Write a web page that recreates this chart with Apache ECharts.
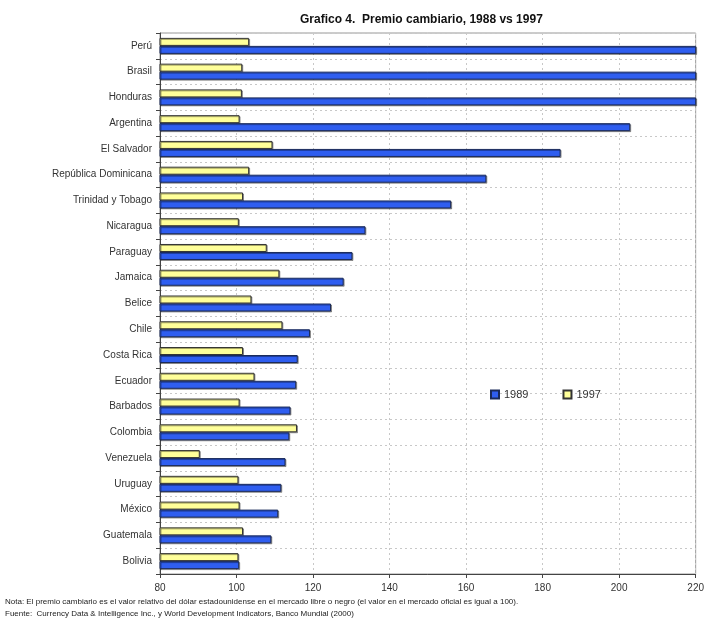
<!DOCTYPE html>
<html>
<head>
<meta charset="utf-8">
<script src="https://cdn.jsdelivr.net/npm/echarts@6/dist/echarts.min.js"></script>
<style>
  html, body { margin: 0; padding: 0; background: #fff; }
  #chart { width: 707px; height: 619px; }
</style>
</head>
<body>
<div id="chart"></div>
<script>
// Countries, top to bottom
const countries = [
  'Perú', 'Brasil', 'Honduras', 'Argentina', 'El Salvador', 'República Dominicana',
  'Trinidad y Tobago', 'Nicaragua', 'Paraguay', 'Jamaica', 'Belice', 'Chile',
  'Costa Rica', 'Ecuador', 'Barbados', 'Colombia', 'Venezuela', 'Uruguay',
  'México', 'Guatemala', 'Bolivia'
];
// Exchange premium (official market = 100); the first three run past the axis end
const premium1989 = [
  260, 250, 240, 202.9, 184.7, 165.3,
  156.1, 133.7, 130.3, 128.0, 124.7, 119.2,
  116.0, 115.6, 114.1, 113.8, 112.8, 111.7,
  110.9, 109.1, 100.7
];
const premium1997 = [
  103.3, 101.5, 101.4, 100.8, 109.4, 103.3,
  101.7, 100.6, 107.9, 111.2, 103.9, 112.0,
  101.7, 104.7, 100.8, 115.8, 90.4, 100.5,
  100.8, 101.7, 100.5
];
const xTicks = { min: 80, max: 220, interval: 20 };
const seriesNames = ['1989', '1997'];

const chart = echarts.init(document.getElementById('chart'), null, { renderer: 'canvas' });
const font = 'Liberation Sans, Arial, sans-serif';

const barShadow = {
  shadowColor: 'rgba(0,0,0,0.35)',
  shadowBlur: 0,
  shadowOffsetX: 1,
  shadowOffsetY: 1
};

chart.setOption({
  animation: false,
  backgroundColor: '#ffffff',
  textStyle: { fontFamily: font },
  title: {
    text: 'Grafico 4.  Premio cambiario, 1988 vs 1997',
    left: 295,
    top: 9,
    textStyle: { fontFamily: font, fontSize: 12, fontWeight: 'bold', color: '#111' }
  },
  legend: {
    data: seriesNames,
    left: 485,
    top: 384,
    icon: 'rect',
    itemWidth: 8,
    itemHeight: 8,
    itemGap: 34,
    textStyle: { fontFamily: font, fontSize: 11, color: '#333' }
  },
  grid: {
    left: 160, right: 7, top: 33, bottom: 45,
    show: true,
    borderColor: '#999',
    borderWidth: 1
  },
  xAxis: {
    type: 'value',
    min: xTicks.min,
    max: xTicks.max,
    interval: xTicks.interval,
    axisLine: { show: true, lineStyle: { color: '#444', width: 1 } },
    axisTick: { show: true, length: 4, lineStyle: { color: '#444' } },
    axisLabel: { fontFamily: font, fontSize: 10, color: '#333', margin: 9 },
    splitLine: { show: true, lineStyle: { color: '#c8c8c8', type: [2, 3] } }
  },
  yAxis: {
    type: 'category',
    data: countries,
    inverse: true,
    axisLine: { show: true, lineStyle: { color: '#444', width: 1 } },
    axisTick: { show: true, length: 4, lineStyle: { color: '#444' } },
    axisLabel: { fontFamily: font, fontSize: 10, color: '#333', margin: 8 },
    splitLine: { show: true, lineStyle: { color: '#c8c8c8', type: [2, 3] } }
  },
  series: [
    // 1997 is listed first so it sits above 1989 within each country band
    {
      name: '1997',
      type: 'bar',
      data: premium1997,
      barWidth: 8,
      barGap: '0%',
      clip: true,
      itemStyle: Object.assign({ color: '#ffff99', borderColor: '#333', borderWidth: 1 }, barShadow)
    },
    {
      name: '1989',
      type: 'bar',
      data: premium1989,
      barWidth: 8,
      barGap: '0%',
      clip: true,
      itemStyle: Object.assign({ color: '#2f5ef0', borderColor: '#1a2a5a', borderWidth: 1 }, barShadow)
    }
  ],
  graphic: [
    {
      type: 'text', left: 5, top: 598,
      style: {
        text: 'Nota: El premio cambiario es el valor relativo del dólar estadounidense en el mercado libre o negro (el valor en el mercado oficial es igual a 100).',
        font: '8px ' + font, fill: '#222'
      }
    },
    {
      type: 'text', left: 5, top: 610,
      style: {
        text: 'Fuente:  Currency Data & Intelligence Inc., y World Development Indicators, Banco Mundial (2000)',
        font: '8px ' + font, fill: '#222'
      }
    }
  ]
});
</script>
</body>
</html>
